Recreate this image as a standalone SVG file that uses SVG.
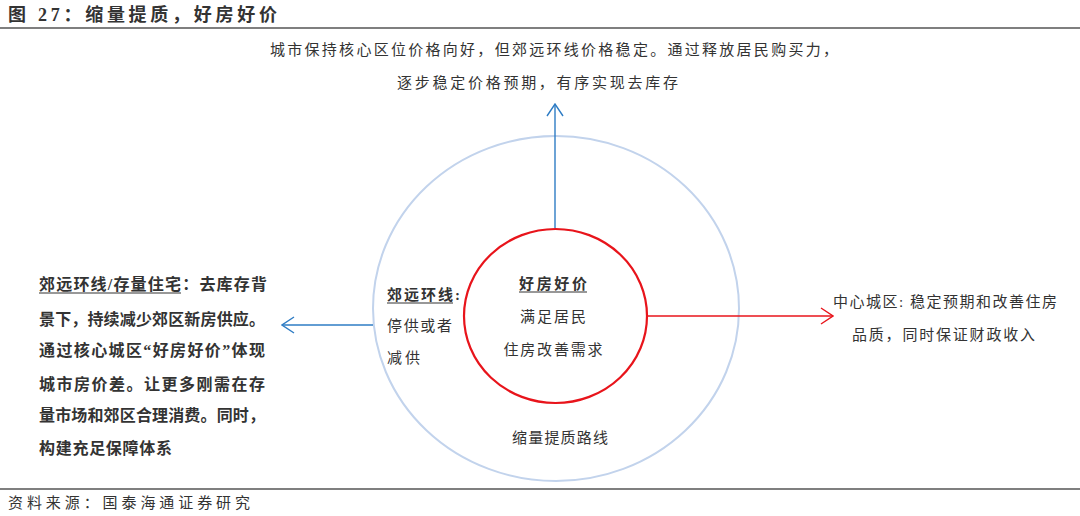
<svg xmlns="http://www.w3.org/2000/svg" width="1080" height="516" viewBox="0 0 1080 516">
<defs>
<style>
text{font-family:"Liberation Serif","Noto Sans CJK SC",serif;fill:#333;}
.t{font-size:15px;}
.b{font-weight:bold;}
.ul{stroke:#333;stroke-width:1.2;}
</style>
<marker id="ab" viewBox="0 0 14 18" refX="13" refY="9" markerWidth="14" markerHeight="18" markerUnits="userSpaceOnUse" orient="auto">
<path d="M1,1 L13,9 L1,17" fill="none" stroke="#2E7CC4" stroke-width="1.4"/>
</marker>
<marker id="ar" viewBox="0 0 14 18" refX="13" refY="9" markerWidth="14" markerHeight="18" markerUnits="userSpaceOnUse" orient="auto">
<path d="M1,1 L13,9 L1,17" fill="none" stroke="#E8141B" stroke-width="1.4"/>
</marker>
</defs>
<rect width="1080" height="516" fill="#fff"/>
<g id="title">
<text x="8" y="21" class="b" style="font-size:18px" textLength="269" lengthAdjust="spacing">图 27：缩量提质，好房好价</text>
<line x1="0" y1="28" x2="1080" y2="28" stroke="#555" stroke-width="1.5"/>
</g>
<g id="outer">
<ellipse cx="556" cy="308.5" rx="183" ry="172.5" fill="none" stroke="#C2D3EC" stroke-width="2"/>
<text x="560" y="443" class="t" text-anchor="middle" textLength="96" lengthAdjust="spacing">缩量提质路线</text>
</g>
<g id="connectors">
<line x1="555" y1="228" x2="555" y2="104" stroke="#2E7CC4" stroke-width="1.4" marker-end="url(#ab)"/>
<line x1="373" y1="325" x2="282" y2="325" stroke="#2E7CC4" stroke-width="1.4" marker-end="url(#ab)"/>
<line x1="647" y1="316" x2="833" y2="316" stroke="#E8141B" stroke-width="1.4" marker-end="url(#ar)"/>
</g>
<g id="inner">
<ellipse cx="555.5" cy="316" rx="91.5" ry="87" fill="none" stroke="#E8141B" stroke-width="2.2"/>
<text x="553" y="289" class="t b" text-anchor="middle" textLength="68" lengthAdjust="spacing">好房好价</text>
<line x1="519" y1="292" x2="587" y2="292" class="ul"/>
<text x="553" y="322" class="t" text-anchor="middle" textLength="66" lengthAdjust="spacing">满足居民</text>
<text x="553" y="355" class="t" text-anchor="middle" textLength="99" lengthAdjust="spacing">住房改善需求</text>
</g>
<g id="ring-text">
<text x="387" y="300" class="t b" textLength="73" lengthAdjust="spacing">郊远环线:</text>
<line x1="387" y1="303" x2="453" y2="303" class="ul"/>
<text x="387" y="331" class="t" textLength="65" lengthAdjust="spacing">停供或者</text>
<text x="387" y="363" class="t" textLength="33" lengthAdjust="spacing">减供</text>
</g>
<g id="top-text">
<text x="270" y="55" class="t" textLength="568" lengthAdjust="spacing">城市保持核心区位价格向好，但郊远环线价格稳定。通过释放居民购买力，</text>
<text x="397" y="88" class="t" textLength="281" lengthAdjust="spacing">逐步稳定价格预期，有序实现去库存</text>
</g>
<g id="left-text" class="b" style="font-size:16px">
<text x="39" y="290" textLength="228" lengthAdjust="spacing">郊远环线/存量住宅：去库存背</text>
<line x1="39" y1="293" x2="181" y2="293" class="ul"/>
<text x="39" y="325" textLength="226" lengthAdjust="spacing">景下，持续减少郊区新房供应。</text>
<text x="39" y="356" textLength="226" lengthAdjust="spacing">通过核心城区“好房好价”体现</text>
<text x="39" y="390" textLength="226" lengthAdjust="spacing">城市房价差。让更多刚需在存</text>
<text x="39" y="421" textLength="226" lengthAdjust="spacing">量市场和郊区合理消费。同时，</text>
<text x="39" y="454" textLength="133" lengthAdjust="spacing">构建充足保障体系</text>
</g>
<g id="right-text">
<text x="833" y="307" class="t" textLength="224" lengthAdjust="spacing">中心城区: 稳定预期和改善住房</text>
<text x="852" y="340" class="t" textLength="183" lengthAdjust="spacing">品质，同时保证财政收入</text>
</g>
<g id="source">
<line x1="0" y1="489" x2="1080" y2="489" stroke="#555" stroke-width="1.5"/>
<text x="8" y="508" class="t" textLength="242" lengthAdjust="spacing">资料来源：国泰海通证券研究</text>
</g>
</svg>
